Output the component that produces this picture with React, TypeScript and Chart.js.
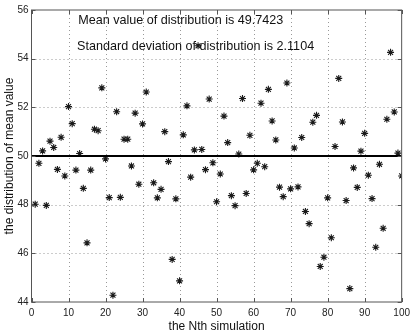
import React, { useEffect, useRef } from "react";
import { Chart, registerables } from "chart.js";

Chart.register(...registerables);

// Simulation index (x) and the mean value of each simulation (y)
const simulationIndex: number[] = Array.from({ length: 100 }, (_, i) => i + 1);
const meanValues: (number | null)[] = [
  48.02, 49.70, 50.21, 47.97, 50.61, 50.35, 49.45, 50.77, 49.18, 52.03,
  51.33, 49.42, 50.10, 48.67, 46.43, 49.42, 51.10, 51.04, 52.80, 49.88,
  48.29, 44.28, 51.82, 48.30, 50.69, 50.69, 49.59, 51.76, 48.84, 51.32,
  52.63, null, 48.90, 48.28, 48.63, 51.00, 49.77, 45.75, 48.24, 44.87,
  50.87, 52.06, 49.13, 50.25, 54.53, 50.27, 49.44, 52.34, 49.72, 48.12,
  49.26, 51.64, 50.55, 48.37, 47.96, 50.08, 52.36, 48.46, 50.85, 49.43,
  49.70, 52.17, 49.56, 52.74, 51.44, 50.66, 48.72, 48.33, 53.00, 48.65,
  50.33, 48.73, 50.76, 47.72, 47.22, 51.39, 51.67, 45.46, 45.84, 48.28,
  46.64, 50.39, 53.19, 51.40, 48.17, 44.55, 49.51, 48.71, 50.20, 50.93,
  49.21, 48.25, 46.25, 49.66, 47.03, 51.51, 54.26, 51.81, 50.12, 49.18,
];
const referenceLineX: number[] = [0, 100];
const referenceLineY: number[] = [50, 50];

const xTicks: number[] = [0, 10, 20, 30, 40, 50, 60, 70, 80, 90, 100];
const yTicks: number[] = [44, 46, 48, 50, 52, 54, 56];

const annotationLines: string[] = [
  "Mean value of distribution is 49.7423",
  "Standard deviation of distribution is 2.1104",
];
const annotationX: number[] = [12.6, 12.3];
const annotationY: number[] = [55.58, 54.48];

const FONT = "'Liberation Sans', Arial, Helvetica, sans-serif";

const framePlugin = {
  id: "matlabFrame",
  beforeDatasetsDraw(chart: any) {
    const { ctx, chartArea, scales } = chart;
    const { left, right, top, bottom } = chartArea;
    ctx.save();
    ctx.strokeStyle = "rgba(0,0,0,0.4)";
    ctx.lineWidth = 1;
    ctx.setLineDash([1, 3]);
    ctx.beginPath();
    xTicks.forEach((v) => {
      if (v === xTicks[0] || v === xTicks[xTicks.length - 1]) return;
      const px = Math.round(scales.x.getPixelForValue(v)) + 0.5;
      ctx.moveTo(px, top);
      ctx.lineTo(px, bottom);
    });
    yTicks.forEach((v) => {
      if (v === yTicks[0] || v === yTicks[yTicks.length - 1]) return;
      const py = Math.round(scales.y.getPixelForValue(v)) + 0.5;
      ctx.moveTo(left, py);
      ctx.lineTo(right, py);
    });
    ctx.stroke();
    ctx.restore();
  },
  afterDatasetsDraw(chart: any) {
    const { ctx, chartArea, scales } = chart;
    const { left, right, top, bottom } = chartArea;
    ctx.save();
    ctx.strokeStyle = "#555";
    ctx.lineWidth = 1;
    ctx.strokeRect(left, top, right - left, bottom - top);
    const tl = 4;
    ctx.beginPath();
    xTicks.forEach((v) => {
      const px = Math.round(scales.x.getPixelForValue(v)) + 0.5;
      ctx.moveTo(px, bottom);
      ctx.lineTo(px, bottom - tl);
      ctx.moveTo(px, top);
      ctx.lineTo(px, top + tl);
    });
    yTicks.forEach((v) => {
      const py = Math.round(scales.y.getPixelForValue(v)) + 0.5;
      ctx.moveTo(left, py);
      ctx.lineTo(left + tl, py);
      ctx.moveTo(right, py);
      ctx.lineTo(right - tl, py);
    });
    ctx.stroke();
    ctx.restore();
  },
  afterDraw(chart: any) {
    const { ctx, scales } = chart;
    ctx.save();
    ctx.fillStyle = "#111";
    ctx.font = `12.6px ${FONT}`;
    ctx.textBaseline = "middle";
    ctx.textAlign = "left";
    annotationLines.forEach((t, i) => {
      ctx.fillText(
        t,
        scales.x.getPixelForValue(annotationX[i]),
        scales.y.getPixelForValue(annotationY[i])
      );
    });
    ctx.restore();
  },
};

export default function App() {
  const canvasRef = useRef<HTMLCanvasElement | null>(null);

  useEffect(() => {
    document.body.style.margin = "0";
    const canvas = canvasRef.current;
    if (!canvas) return;
    const points = simulationIndex
      .map((x, i) => ({ x, y: meanValues[i] }))
      .filter((p) => p.y !== null);
    const chart = new Chart(canvas, {
      type: "scatter",
      data: {
        datasets: [
          {
            type: "line",
            data: referenceLineX.map((x, i) => ({ x, y: referenceLineY[i] })),
            borderColor: "#000",
            borderWidth: 2,
            pointRadius: 0,
            fill: false,
          } as any,
          {
            data: points as any,
            pointStyle: "star",
            pointRadius: 3.5,
            pointBorderWidth: 1.1,
            borderColor: "#1a1a1a",
            backgroundColor: "#1a1a1a",
            showLine: false,
          },
        ],
      },
      options: {
        animation: false,
        responsive: false,
        devicePixelRatio: 1,
        layout: { padding: { top: 10, right: 10.3, bottom: 0, left: 0 } },
        plugins: {
          legend: { display: false },
          tooltip: { enabled: false },
        },
        scales: {
          x: {
            type: "linear",
            min: 0,
            max: 100,
            afterBuildTicks: (s: any) => {
              s.ticks = xTicks.map((v) => ({ value: v }));
            },
            afterFit: (s: any) => {
              s.height = 33;
            },
            grid: { display: false, drawTicks: false },
            border: { display: false },
            ticks: {
              padding: 5,
              maxRotation: 0,
              autoSkip: false,
              color: "#222",
              font: { family: FONT, size: 10 },
            },
            title: {
              display: true,
              text: "the Nth simulation",
              color: "#111",
              font: { family: FONT, size: 12 },
              padding: { top: 0, bottom: 1 },
            },
          },
          y: {
            type: "linear",
            min: 44,
            max: 56,
            afterBuildTicks: (s: any) => {
              s.ticks = yTicks.map((v) => ({ value: v }));
            },
            afterFit: (s: any) => {
              s.width = 31.5;
            },
            grid: { display: false, drawTicks: false },
            border: { display: false },
            ticks: {
              padding: 3,
              autoSkip: false,
              color: "#222",
              font: { family: FONT, size: 10 },
            },
            title: {
              display: true,
              text: "the distribution of mean value",
              color: "#111",
              font: { family: FONT, size: 12 },
              padding: { top: 2, bottom: 0 },
            },
          },
        },
      },
      plugins: [framePlugin],
    });
    return () => chart.destroy();
  }, []);

  return (
    <div style={{ position: "absolute", left: 0, top: 0, width: 415, height: 335 }}>
      <canvas ref={canvasRef} width={415} height={335} />
    </div>
  );
}
